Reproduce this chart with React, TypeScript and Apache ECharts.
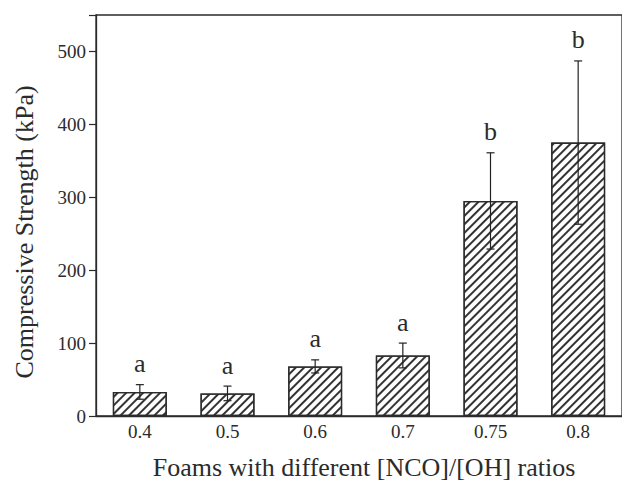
import React, { useEffect, useRef } from "react";
import * as echarts from "echarts";

const categories = ["0.4", "0.5", "0.6", "0.7", "0.75", "0.8"];
const means = [33, 31, 68, 83, 295, 375];
const errors = [10, 10, 9, 17, 66, 112];
const letters = ["a", "a", "a", "a", "b", "b"];
const yMax = 550;
const yInterval = 100;
const xTitle = "Foams with different [NCO]/[OH] ratios";
const yTitle = "Compressive Strength (kPa)";

const FONT = "Liberation Serif";
const INK = "#2b2b2b";

export default function App() {
  const ref = useRef<HTMLDivElement>(null);
  useEffect(() => {
    if (!ref.current) return;
    const chart = echarts.init(ref.current, undefined, { renderer: "svg" });
    chart.setOption({
      animation: false,
      backgroundColor: "#fff",
      textStyle: { fontFamily: FONT },
      grid: {
        left: 96,
        right: -1,
        top: 15,
        bottom: 65,
        show: true,
        borderColor: INK,
        borderWidth: 1.3,
        containLabel: false,
      },
      xAxis: {
        type: "category",
        data: categories,
        axisLine: { lineStyle: { color: INK, width: 1.3 } },
        axisTick: { alignWithLabel: true, length: 5, lineStyle: { color: INK, width: 1.2 } },
        axisLabel: { color: INK, fontFamily: FONT, fontSize: 19, margin: 6 },
        splitLine: { show: false },
      },
      yAxis: {
        type: "value",
        min: 0,
        max: yMax,
        interval: yInterval,
        axisLine: { show: true, lineStyle: { color: INK, width: 1.3 } },
        axisTick: { show: true, length: 7, lineStyle: { color: INK, width: 1.2 } },
        axisLabel: {
          color: INK,
          fontFamily: FONT,
          fontSize: 19,
          margin: 10,
          formatter: (v: number) => (v % 100 === 0 ? String(v) : ""),
        },
        splitLine: { show: false },
      },
      graphic: [
        {
          type: "text",
          x: 364,
          y: 467,
          style: {
            text: xTitle,
            fill: INK,
            fontFamily: FONT,
            fontSize: 26,
            textAlign: "center",
            textVerticalAlign: "middle",
          },
        },
        {
          type: "text",
          x: 24,
          y: 232,
          rotation: Math.PI / 2,
          style: {
            text: yTitle,
            fill: INK,
            fontFamily: FONT,
            fontSize: 26,
            textAlign: "center",
            textVerticalAlign: "middle",
          },
        },
      ],
      series: [
        {
          type: "bar",
          data: means,
          barWidth: 54,
          itemStyle: {
            color: "#fff",
            borderColor: INK,
            borderWidth: 1.3,
            decal: {
              symbol: "rect",
              symbolSize: 1,
              color: "#333",
              backgroundColor: "#fff",
              dashArrayX: [1, 0],
              dashArrayY: [1.3, 3.2],
              rotation: -Math.PI / 4,
            },
          },
          z: 2,
        },
        {
          type: "custom",
          data: categories.map((_, i) => [i, means[i], errors[i]]),
          z: 5,
          renderItem: (params: any, api: any) => {
            const x = api.value(0);
            const m = api.value(1);
            const e = api.value(2);
            const top = api.coord([x, m + e]);
            const bot = api.coord([x, m - e]);
            const cap = 4;
            const ls = { stroke: "#222", lineWidth: 1.2 };
            return {
              type: "group",
              children: [
                { type: "line", shape: { x1: top[0], y1: top[1], x2: bot[0], y2: bot[1] }, style: ls },
                { type: "line", shape: { x1: top[0] - cap, y1: top[1], x2: top[0] + cap, y2: top[1] }, style: ls },
                { type: "line", shape: { x1: bot[0] - cap, y1: bot[1], x2: bot[0] + cap, y2: bot[1] }, style: ls },
                {
                  type: "text",
                  x: top[0],
                  y: top[1] - 21,
                  style: {
                    text: letters[params.dataIndex],
                    fill: INK,
                    fontFamily: FONT,
                    fontSize: 26,
                    textAlign: "center",
                    textVerticalAlign: "middle",
                  },
                },
              ],
            };
          },
        },
      ],
    });
    return () => chart.dispose();
  }, []);
  return <div ref={ref} style={{ width: 622, height: 481, position: "absolute", left: 0, top: 0 }} />;
}
